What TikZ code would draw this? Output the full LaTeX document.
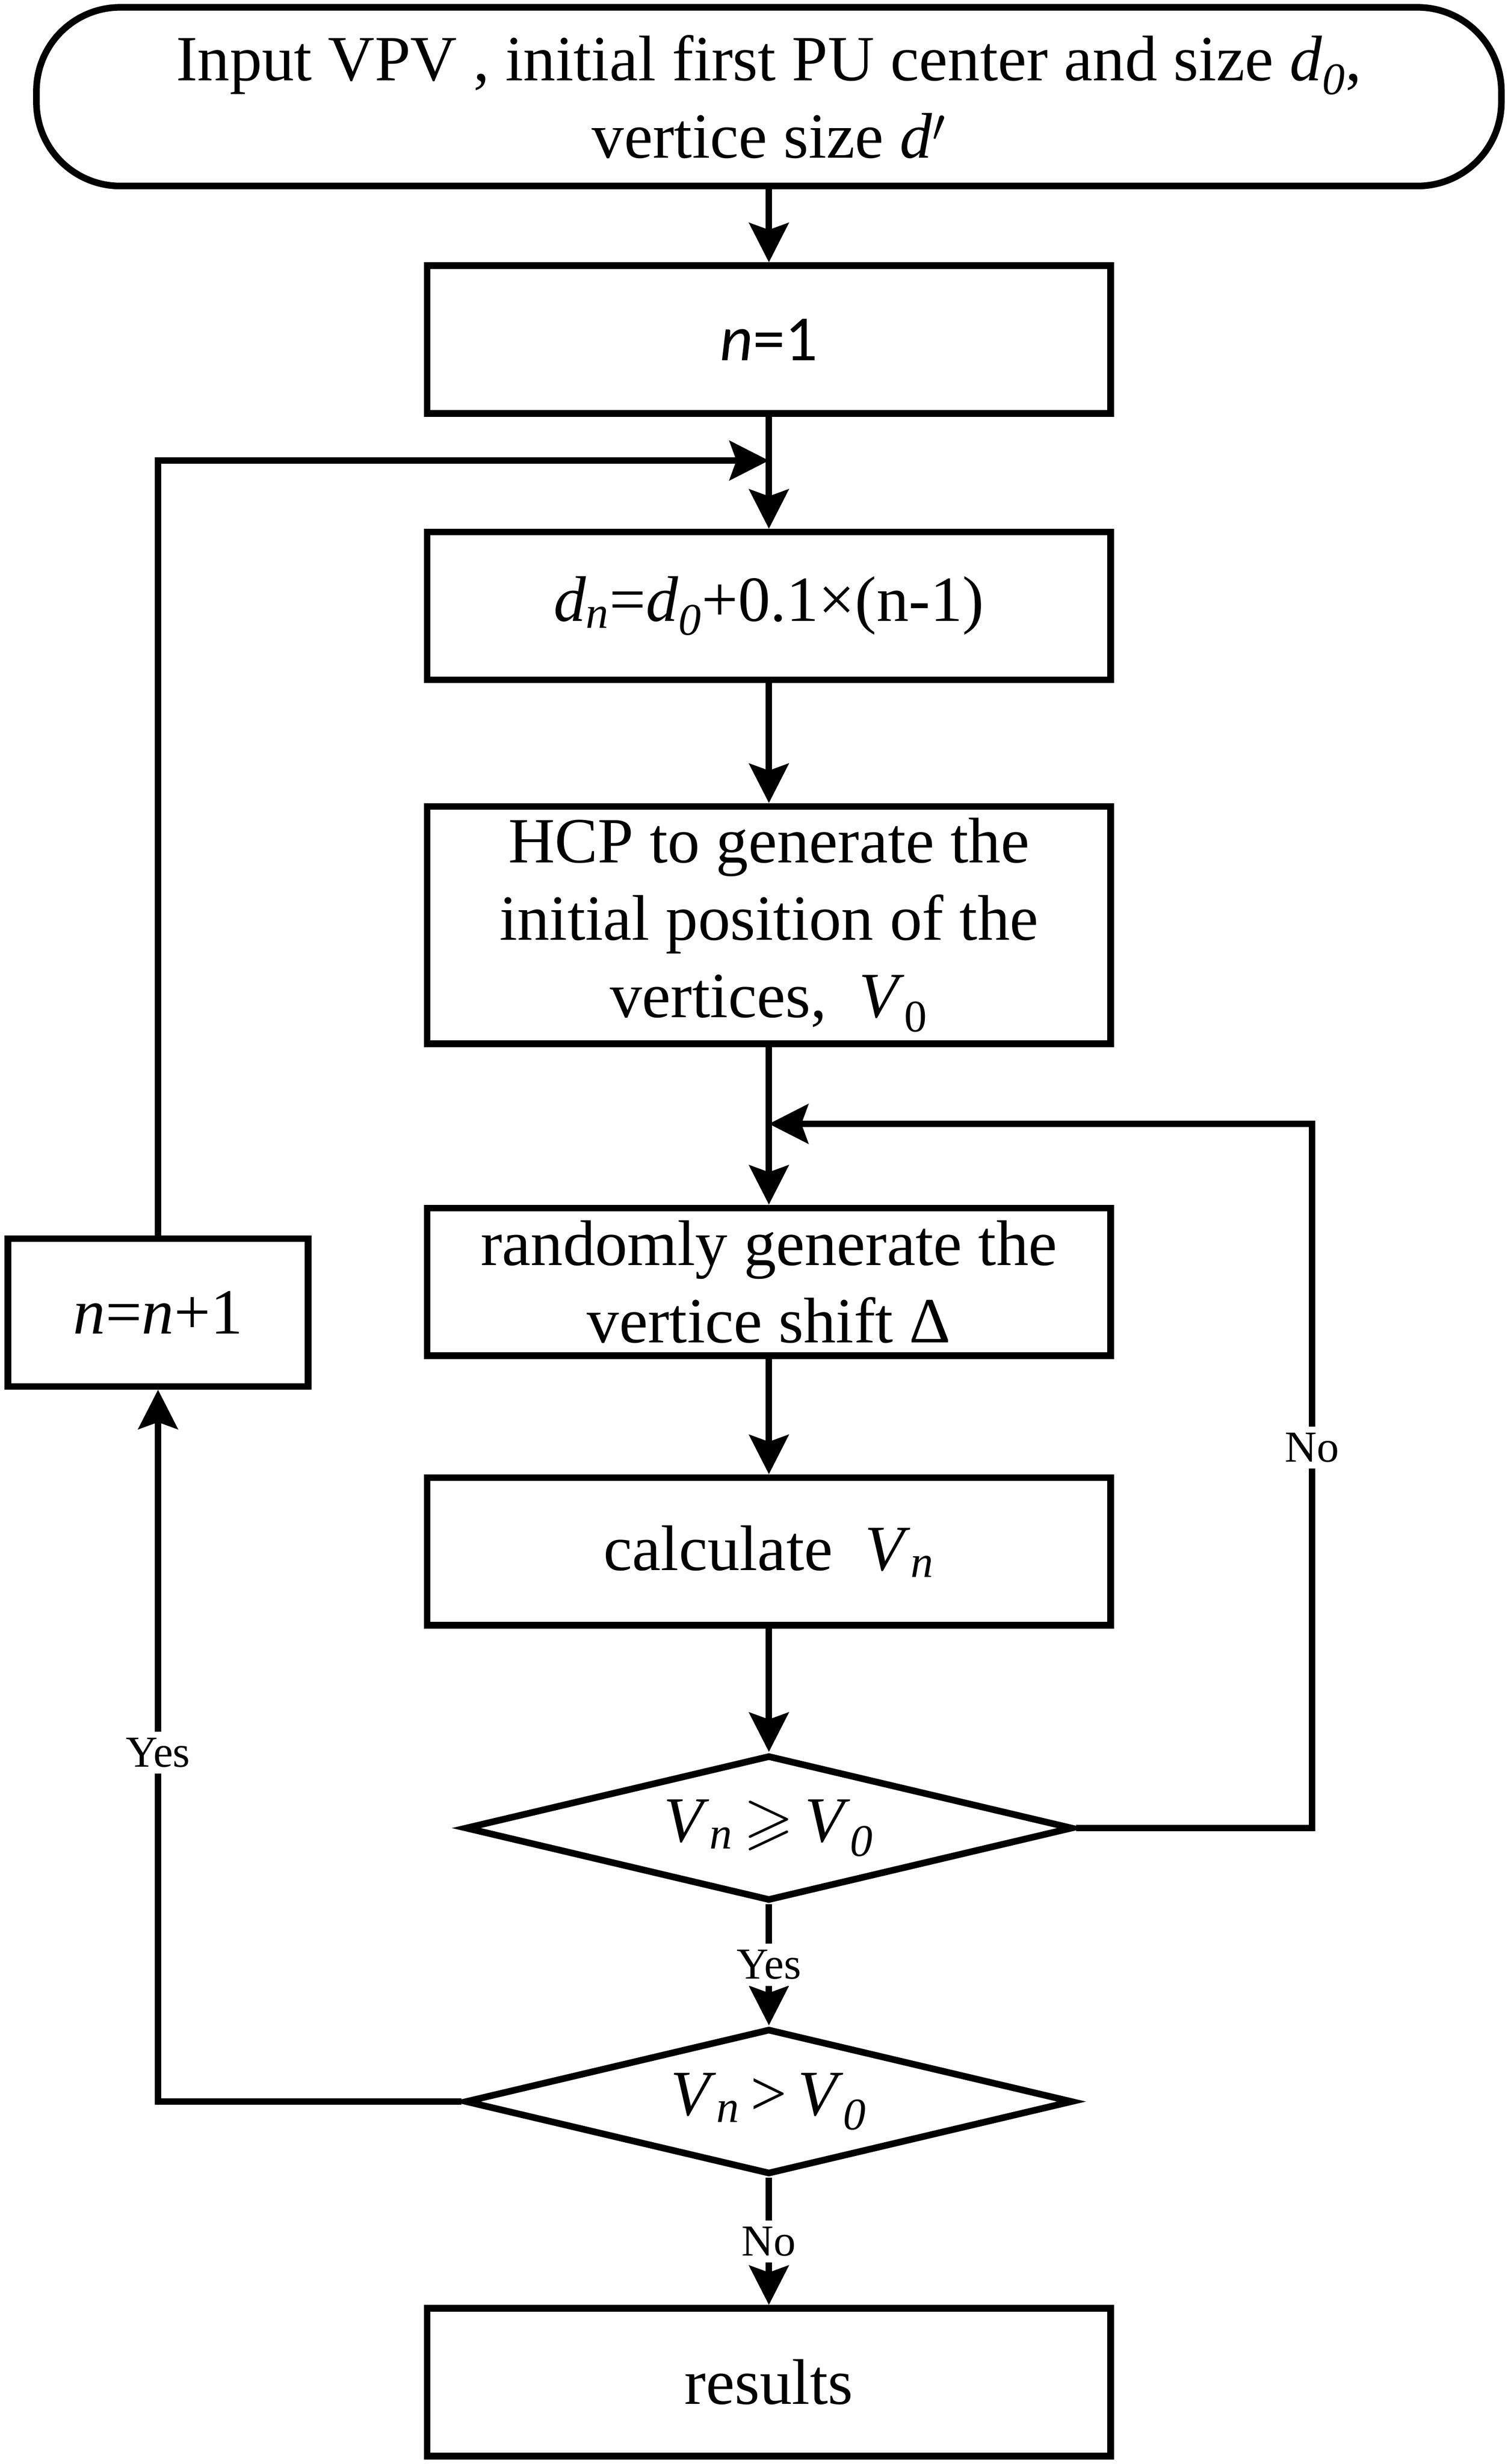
\documentclass[tikz,border=0pt]{standalone}
\usepackage{fontspec}
\usepackage{amssymb}
\usepackage{tikz}
\usetikzlibrary{arrows.meta,positioning,shapes.geometric}
\setmainfont{Liberation Serif}
\setsansfont{Carlito}
\DeclareFontFamily{U}{msa}{}
\DeclareFontShape{U}{msa}{m}{n}{<->msam10}{}
\newcommand{\flowfont}{\fontsize{35pt}{42pt}\selectfont}
\newcommand{\tagfont}{\fontsize{24pt}{27pt}\selectfont}

\tikzset{
  box/.style={draw, line width=3.6pt, minimum width=130.4mm, minimum height=28.2mm,
    inner sep=0pt, align=center, font=\flowfont},
  term/.style={box, rounded corners=16mm, minimum width=279.5mm, minimum height=34.1mm},
  cond/.style={draw, diamond, aspect=4.06, line width=3.6pt, minimum width=116mm, minimum height=27.8mm,
    inner sep=0pt, font=\flowfont},
  arr/.style={line width=3.6pt, -{Stealth[length=7.5mm,width=7.5mm,inset=1.3mm]}},
  tag/.style={fill=white, inner sep=1.2mm, font=\tagfont}
}

\begin{document}
\begin{tikzpicture}[x=0.3mm,y=-0.3mm]
    \useasboundingbox (0,0) rectangle (959,1567.6);

    % Blocks
    \node[term] (start) at (489,61.5) {Input VPV , initial first PU center and size \textit{d}\textsubscript{\textit{0}},\\vertice size \textit{d}$'$};
    \node[box] (n1) at (489,216) {\sffamily\textit{n}=1};
    \node[box] (dn) at (489,385.5) {\textit{d}\textsubscript{\textit{n}}=\textit{d}\textsubscript{\textit{0}}+0.1×(n-1)};
    \node[box, minimum height=45.3mm] (hcp) at (489,588.5) {HCP to generate the\\initial position of the\\vertices,\enspace\textit{V}\textsubscript{0}};
    \node[box] (rand) at (489,815.5) {randomly generate the\\vertice shift Δ};
    \node[box] (calc) at (489,987) {calculate\enspace\textit{V}\textsubscript{\textit{n}}};
    \node[cond] (ge) at (489,1163) {\textit{V}\textsubscript{\textit{n}}\,$\geqslant$\,\textit{V}\textsubscript{\textit{0}}};
    \node[cond] (gt) at (489,1337) {\textit{V}\textsubscript{\textit{n}}\,>\,\textit{V}\textsubscript{\textit{0}}};
    \node[box, minimum width=57.3mm] (inc) at (100.5,835) {\textit{n}=\textit{n}+1};
    \node[box] (res) at (489,1515.5) {results};

    % Join points
    \coordinate (loopin) at (489,293);
    \coordinate (retry) at (489,715);

    % Main column
    \draw[arr] (start) -- (n1);
    \draw[arr] (n1) -- (dn);
    \draw[arr] (dn) -- (hcp);
    \draw[arr] (hcp) -- (rand);
    \draw[arr] (rand) -- (calc);
    \draw[arr] (calc) -- (ge);
    \draw[arr] (ge) -- node[tag] {Yes} (gt);
    \draw[arr] (gt) -- node[tag] {No} (res);

    % Loops
    \draw[arr] (ge.east) -- ++(150,0) |- node[tag, pos=0.27] {No} (retry);
    \draw[arr] (gt.west) -| node[tag, pos=0.745] {Yes} (inc.south);
    \draw[arr] (inc.north) |- (loopin);
\end{tikzpicture}
\end{document}
